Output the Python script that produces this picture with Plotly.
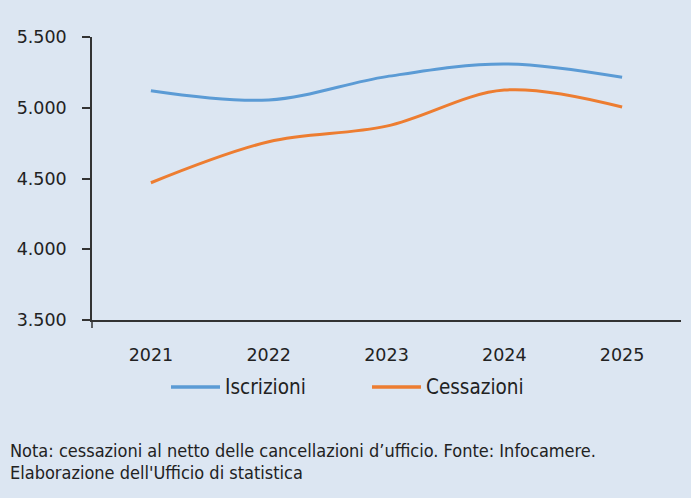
import plotly.graph_objects as go

years = ["2021", "2022", "2023", "2024", "2025"]
iscrizioni = [5120, 5055, 5220, 5310, 5215]
cessazioni = [4470, 4760, 4870, 5125, 5005]
series_names = ["Iscrizioni", "Cessazioni"]
series_colors = ["#5B9BD5", "#ED7D31"]
y_ticks = [3500, 4000, 4500, 5000, 5500]
y_tick_labels = ["3.500", "4.000", "4.500", "5.000", "5.500"]

BG = "#DCE6F2"
cond = "Liberation Sans Narrow, DejaVu Sans Condensed, sans-serif"

L, R, T, B = 92, 10, 37, 178
PW, PH = 691 - L - R, 498 - T - B


def px(x):
    return (x - L) / PW


def py(y):
    return (498 - B - y) / PH


fig = go.Figure()
for vals, name, col in zip([iscrizioni, cessazioni], series_names, series_colors):
    fig.add_trace(go.Scatter(x=years, y=vals, name=name, mode="lines", showlegend=False,
                             line=dict(color=col, width=3, shape="spline")))

fig.update_layout(
    width=691, height=498,
    paper_bgcolor=BG, plot_bgcolor=BG,
    margin=dict(l=L, r=R, t=T, b=B),
    font=dict(family="DejaVu Sans", color="#222222"),
)
fig.update_xaxes(type="category", range=[-0.5, 4.5], showgrid=False, zeroline=False,
                 showline=True, linecolor="#333333", linewidth=1.5, ticks="",
                 tickfont=dict(family="DejaVu Sans", size=17.5, color="#222222"),
                 ticklabelstandoff=18)
fig.update_yaxes(range=[3500, 5500], tickvals=y_ticks, ticktext=y_tick_labels,
                 showgrid=False, zeroline=False, showline=True, linecolor="#333333",
                 linewidth=1.5, ticks="outside", ticklen=8, tickcolor="#333333",
                 tickwidth=1.5,
                 tickfont=dict(family="DejaVu Sans", size=17.5, color="#222222"),
                 ticklabelstandoff=12)

fig.add_shape(type="line", xref="paper", yref="paper", x0=0, x1=0, y0=0, y1=-8 / PH,
              line=dict(color="#333333", width=1.5))

# legend (manual, to match the long line samples)
legend_x = [171, 372]
for lx, name, col in zip(legend_x, series_names, series_colors):
    fig.add_shape(type="line", xref="paper", yref="paper", x0=px(lx), x1=px(lx + 49),
                  y0=py(387), y1=py(387), line=dict(color=col, width=3.5))
    fig.add_annotation(xref="paper", yref="paper", x=px(lx + 52), y=py(387),
                       xanchor="left", yanchor="middle", showarrow=False, text=name,
                       font=dict(family=cond, size=20.5, color="#222222"))

fig.add_annotation(xref="paper", yref="paper", x=px(8), y=py(450),
                   xanchor="left", yanchor="middle", showarrow=False, align="left",
                   text="Nota: cessazioni al netto delle cancellazioni d’ufficio. Fonte: Infocamere.",
                   font=dict(family=cond, size=18, color="#222222"))
fig.add_annotation(xref="paper", yref="paper", x=px(8), y=py(472),
                   xanchor="left", yanchor="middle", showarrow=False, align="left",
                   text="Elaborazione dell'Ufficio di statistica",
                   font=dict(family=cond, size=18, color="#222222"))

fig.write_html("out.html", config={"displayModeBar": False},
               post_script="document.body.style.margin='0';")
